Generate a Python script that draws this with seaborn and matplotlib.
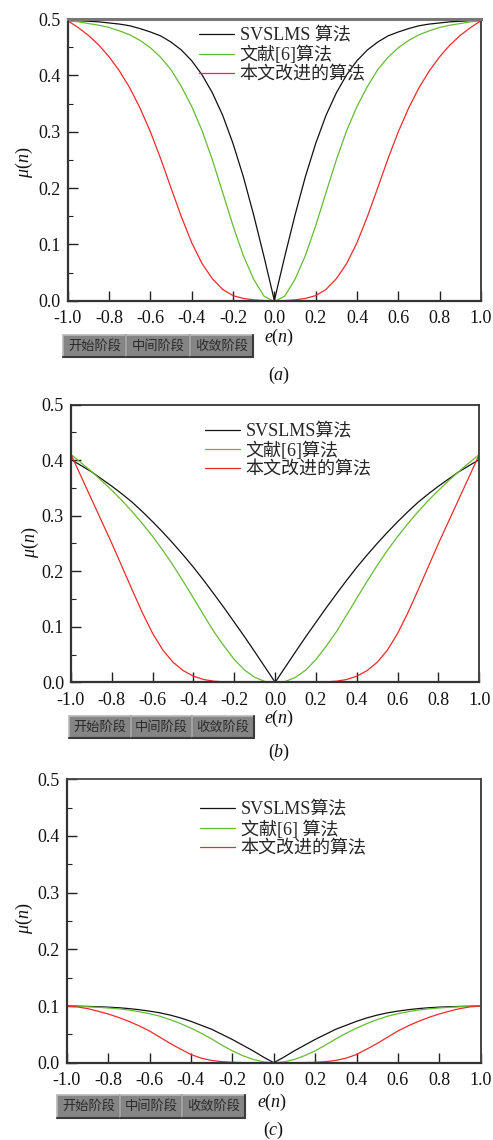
import matplotlib
matplotlib.use("Agg")
import numpy as np
import pandas as pd
import seaborn as sns
import matplotlib.pyplot as plt
from matplotlib.patches import Rectangle
from matplotlib.lines import Line2D

# ---------------- data ----------------
e_vals = [-1.0, -0.95, -0.9, -0.85, -0.8, -0.75, -0.7, -0.65, -0.6, -0.55, -0.5,
          -0.45, -0.4, -0.35, -0.3, -0.25, -0.2, -0.15, -0.1, -0.05, -0.01, 0.0,
          0.01, 0.05, 0.1, 0.15, 0.2, 0.25, 0.3, 0.35, 0.4, 0.45, 0.5, 0.55, 0.6,
          0.65, 0.7, 0.75, 0.8, 0.85, 0.9, 0.95, 1.0]

a_svslms = [0.497, 0.497, 0.496, 0.495, 0.493, 0.491, 0.488, 0.483, 0.477, 0.470, 0.459,
            0.445, 0.426, 0.401, 0.369, 0.329, 0.279, 0.220, 0.152, 0.078, 0.016, 0.0,
            0.016, 0.078, 0.152, 0.220, 0.279, 0.329, 0.369, 0.401, 0.426, 0.445, 0.459,
            0.470, 0.477, 0.483, 0.488, 0.491, 0.493, 0.495, 0.496, 0.497, 0.497]
a_ref6 = [0.497, 0.495, 0.492, 0.489, 0.485, 0.479, 0.472, 0.462, 0.449, 0.432, 0.410,
          0.380, 0.345, 0.302, 0.250, 0.192, 0.133, 0.080, 0.038, 0.008, 0.0003, 0.0,
          0.0003, 0.008, 0.038, 0.080, 0.133, 0.192, 0.250, 0.302, 0.345, 0.380, 0.410,
          0.432, 0.449, 0.462, 0.472, 0.479, 0.485, 0.489, 0.492, 0.495, 0.497]
a_prop = [0.497, 0.485, 0.471, 0.454, 0.433, 0.408, 0.378, 0.342, 0.300, 0.252, 0.200,
          0.149, 0.103, 0.066, 0.039, 0.020, 0.009, 0.004, 0.0015, 0.0002, 0.0, 0.0,
          0.0, 0.0002, 0.0015, 0.004, 0.009, 0.020, 0.039, 0.066, 0.103, 0.149, 0.200,
          0.252, 0.300, 0.342, 0.378, 0.408, 0.433, 0.454, 0.471, 0.485, 0.497]

b_svslms = [0.401, 0.390, 0.379, 0.366, 0.353, 0.339, 0.324, 0.307, 0.289, 0.270, 0.250,
            0.229, 0.207, 0.1835, 0.159, 0.134, 0.108, 0.082, 0.055, 0.0275, 0.0055, 0.0,
            0.0055, 0.0275, 0.055, 0.082, 0.108, 0.134, 0.159, 0.1835, 0.207, 0.229, 0.250,
            0.270, 0.289, 0.307, 0.324, 0.339, 0.353, 0.366, 0.379, 0.390, 0.401]
b_ref6 = [0.410, 0.395, 0.3795, 0.363, 0.3455, 0.327, 0.307, 0.2855, 0.2625, 0.2375, 0.2105,
          0.1815, 0.1515, 0.121, 0.091, 0.065, 0.041, 0.022, 0.009, 0.0015, 0.0001, 0.0,
          0.0001, 0.0015, 0.009, 0.022, 0.041, 0.065, 0.091, 0.121, 0.1515, 0.1815, 0.2105,
          0.2375, 0.2625, 0.2855, 0.307, 0.327, 0.3455, 0.363, 0.3795, 0.395, 0.410]
b_prop = [0.410, 0.370, 0.330, 0.290, 0.250, 0.208, 0.166, 0.125, 0.088, 0.058, 0.036,
          0.021, 0.011, 0.005, 0.002, 0.0008, 0.0002, 0.0, 0.0, 0.0, 0.0, 0.0,
          0.0, 0.0, 0.0, 0.0, 0.0002, 0.0008, 0.002, 0.005, 0.011, 0.021, 0.036,
          0.058, 0.088, 0.125, 0.166, 0.208, 0.250, 0.290, 0.330, 0.370, 0.410]

c_svslms = [0.100, 0.0997, 0.0993, 0.0988, 0.098, 0.097, 0.0955, 0.0935, 0.091, 0.088, 0.084,
            0.079, 0.073, 0.066, 0.059, 0.050, 0.041, 0.031, 0.021, 0.010, 0.002, 0.0,
            0.002, 0.010, 0.021, 0.031, 0.041, 0.050, 0.059, 0.066, 0.073, 0.079, 0.084,
            0.088, 0.091, 0.0935, 0.0955, 0.097, 0.098, 0.0988, 0.0993, 0.0997, 0.100]
c_ref6 = [0.100, 0.0995, 0.0988, 0.0978, 0.0966, 0.095, 0.093, 0.090, 0.0865, 0.082, 0.076,
          0.069, 0.061, 0.052, 0.042, 0.031, 0.021, 0.0125, 0.0058, 0.0015, 0.0001, 0.0,
          0.0001, 0.0015, 0.0058, 0.0125, 0.021, 0.031, 0.042, 0.052, 0.061, 0.069, 0.076,
          0.082, 0.0865, 0.090, 0.093, 0.095, 0.0966, 0.0978, 0.0988, 0.0995, 0.100]
c_prop = [0.100, 0.0985, 0.0955, 0.091, 0.086, 0.080, 0.073, 0.065, 0.056, 0.045, 0.034,
          0.024, 0.0145, 0.008, 0.004, 0.0018, 0.0007, 0.0002, 0.0001, 0.0, 0.0, 0.0,
          0.0, 0.0, 0.0001, 0.0002, 0.0007, 0.0018, 0.004, 0.008, 0.0145, 0.024, 0.034,
          0.045, 0.056, 0.065, 0.073, 0.080, 0.086, 0.091, 0.0955, 0.0985, 0.100]

legend_a = ["SVSLMS 算法", "文献[6]算法", "本文改进的算法"]
legend_b = ["SVSLMS算法", "文献[6]算法", "本文改进的算法"]
legend_c = ["SVSLMS算法", "文献[6] 算法", "本文改进的算法"]
captions = ["$(a)$", "$(b)$", "$(c)$"]
stage_labels = ["开始阶段", "中间阶段", "收敛阶段"]
x_ticks = [-1.0, -0.8, -0.6, -0.4, -0.2, 0.0, 0.2, 0.4, 0.6, 0.8, 1.0]
x_tick_labels = ["-1.0", "-0.8", "-0.6", "-0.4", "-0.2", "0.0", "0.2", "0.4", "0.6", "0.8", "1.0"]
y_ticks = [0.0, 0.1, 0.2, 0.3, 0.4, 0.5]
y_tick_labels = ["0.0", "0.1", "0.2", "0.3", "0.4", "0.5"]
y_minor = [0.05, 0.15, 0.25, 0.35, 0.45]

# ---------------- style ----------------
sns.set_theme(style="ticks")
FAM = ["Liberation Serif", "Noto Sans CJK SC"]
plt.rcParams["font.family"] = FAM
plt.rcParams["mathtext.fontset"] = "custom"
plt.rcParams["mathtext.rm"] = "Liberation Serif"
plt.rcParams["mathtext.it"] = "Liberation Serif:italic"
plt.rcParams["axes.unicode_minus"] = False

W, H = 493, 1140
fig = plt.figure(figsize=(W / 100, H / 100), dpi=100)
fig.patch.set_facecolor("white")

COLORS = ["#111111", "#66bb33", "#ee2a2a"]

def fx(x):
    return x / W

def fy(y):
    return 1 - y / H

panels = [
    dict(box=(67.7, 19, 481, 300.7), series=[a_svslms, a_ref6, a_prop], labels=legend_a,
         leg=(0.318, 0.872), ylab=(-0.080, 0.49), xlab=(279, 337), cap=(279, 375),
         btn=(63, 335, 253, 357), top=("#777777", 2.2)),
    dict(box=(71, 404.5, 479.3, 682.3), series=[b_svslms, b_ref6, b_prop], labels=legend_b,
         leg=(0.328, 0.834), ylab=(-0.073, 0.505), xlab=(279, 718), cap=(279, 752),
         btn=(69, 716, 254, 738), top=("#333333", 1.3)),
    dict(box=(66.7, 779.3, 480.7, 1062.7), series=[c_svslms, c_ref6, c_prop], labels=legend_c,
         leg=(0.322, 0.823), ylab=(-0.077, 0.51), xlab=(272, 1102), cap=(274, 1130),
         btn=(57, 1095, 245, 1118), top=("#444444", 1.3)),
]

for i, p in enumerate(panels):
    x0, y0, x1, y1 = p["box"]
    ax = fig.add_axes([fx(x0), fy(y1), (x1 - x0) / W, (y1 - y0) / H])
    frames = []
    for lab, vals in zip(p["labels"], p["series"]):
        frames.append(pd.DataFrame({"e": e_vals, "mu": vals, "alg": lab}))
    df = pd.concat(frames, ignore_index=True)
    sns.lineplot(data=df, x="e", y="mu", hue="alg", hue_order=p["labels"],
                 palette=dict(zip(p["labels"], COLORS)), estimator=None, sort=False,
                 linewidth=0.9, ax=ax, legend=False)
    ax.set_xlim(-1.0, 1.0)
    ax.set_ylim(0.0, 0.5)
    ax.set_xticks(x_ticks)
    ax.set_xticklabels(x_tick_labels)
    ax.set_yticks(y_ticks)
    ax.set_yticklabels(y_tick_labels)
    ax.set_yticks(y_minor, minor=True)
    ax.tick_params(axis="both", which="major", direction="in", length=7, width=1.0,
                   colors="#222222", labelsize=13, top=False, right=False)
    ax.tick_params(axis="x", pad=7)
    ax.tick_params(axis="y", pad=5)
    ax.tick_params(axis="y", which="minor", direction="in", length=3.5, width=0.8,
                   colors="#222222", right=False)
    for t in ax.get_xticklabels() + ax.get_yticklabels():
        t.set_color("#111111")
    for s in ["left", "bottom"]:
        ax.spines[s].set_linewidth(1.6)
        ax.spines[s].set_color("#333333")
    ax.spines["right"].set_linewidth(1.4)
    ax.spines["right"].set_color("#444444")
    ax.spines["top"].set_color(p["top"][0])
    ax.spines["top"].set_linewidth(p["top"][1])
    ax.set_xlabel("")
    ax.set_ylabel(r"$\mu(n)$", fontsize=13, color="#111111")
    ax.yaxis.set_label_coords(*p["ylab"])

    handles = [Line2D([], [], color=c, linewidth=0.9) for c in COLORS]
    ax.legend(handles, p["labels"], loc="center left", bbox_to_anchor=p["leg"],
              frameon=False, fontsize=13, handlelength=1.95, handletextpad=0.3,
              labelspacing=0.08, borderpad=0.0, borderaxespad=0.0)

    # x label and caption
    fig.text(fx(p["xlab"][0]), fy(p["xlab"][1]), r"$e(n)$", ha="center", va="center",
             fontsize=13, color="#111111")
    fig.text(fx(p["cap"][0]), fy(p["cap"][1]), captions[i], ha="center", va="center",
             fontsize=13, color="#111111")

    # stage buttons
    bx0, by0, bx1, by1 = p["btn"]
    bw = (bx1 - bx0) / 3
    for k, lab in enumerate(stage_labels):
        l = bx0 + k * bw
        r = l + bw
        fig.add_artist(Rectangle((fx(l), fy(by1)), bw / W, (by1 - by0) / H,
                                 transform=fig.transFigure, facecolor="#858585",
                                 edgecolor="none"))
        fig.add_artist(Line2D([fx(l), fx(r)], [fy(by0), fy(by0)], transform=fig.transFigure,
                              color="#b8b8b8", linewidth=1.2))
        fig.add_artist(Line2D([fx(l), fx(l)], [fy(by0), fy(by1)], transform=fig.transFigure,
                              color="#b8b8b8", linewidth=1.2))
        fig.add_artist(Line2D([fx(l), fx(r)], [fy(by1), fy(by1)], transform=fig.transFigure,
                              color="#3a3a3a", linewidth=1.5))
        fig.add_artist(Line2D([fx(r), fx(r)], [fy(by0), fy(by1)], transform=fig.transFigure,
                              color="#3a3a3a", linewidth=1.5))
        fig.text(fx((l + r) / 2), fy((by0 + by1) / 2), lab, ha="center", va="center",
                 fontsize=9.5, color="#2a2a2a", family=["Noto Sans CJK SC", "DejaVu Sans"])

fig.savefig("out.png", dpi=100, facecolor="white")
